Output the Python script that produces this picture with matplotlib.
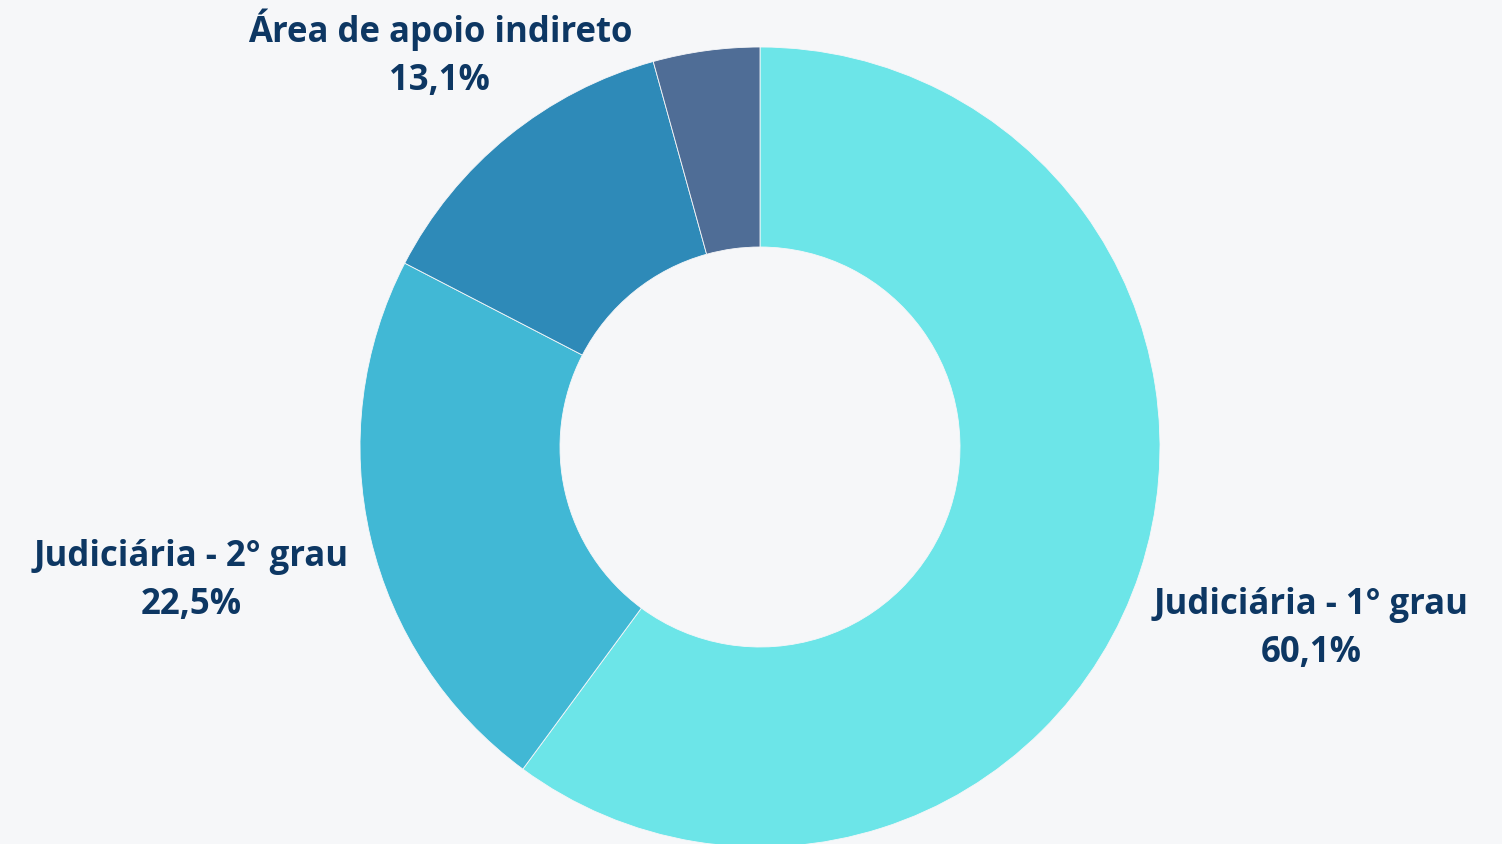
import numpy as np
import matplotlib.pyplot as plt

labels = ["Judiciária - 1° grau", "Judiciária - 2° grau", "Área de apoio indireto", ""]
values = [60.1, 22.5, 13.1, 4.3]
shown = ["60,1%", "22,5%", "13,1%", ""]
colors = ["#6CE5E8", "#41B8D5", "#2E8AB8", "#4F6D96"]
label_dist = [1.45, 1.46, 1.27, 0]

fig = plt.figure(figsize=(15.02, 8.45), dpi=100)
fig.patch.set_facecolor("#F6F7F9")
ax = fig.add_axes([0, 0, 1, 1])
ax.set_facecolor("#F6F7F9")

cx, cy, r = 760, 397, 400
wedges, _ = ax.pie(
    values,
    colors=colors,
    startangle=90,
    counterclock=False,
    center=(cx, cy),
    radius=r,
    wedgeprops=dict(width=200, edgecolor="#F6F7F9", linewidth=0.6),
    frame=True,
)
ax.set_xlim(0, 1502)
ax.set_ylim(0, 845)
ax.set_aspect("auto")
ax.axis("off")

for w, lab, pct, d in zip(wedges, labels, shown, label_dist):
    if not lab:
        continue
    ang = np.deg2rad((w.theta1 + w.theta2) / 2)
    x = cx + d * r * np.cos(ang)
    y = cy + d * r * np.sin(ang)
    ax.text(x, y, lab + "\n" + pct, ha="center", va="center",
            fontsize=25, fontweight="bold", family="Open Sans",
            color="#0D3763", linespacing=1.45)

fig.savefig("out.png", dpi=100, facecolor=fig.get_facecolor())
